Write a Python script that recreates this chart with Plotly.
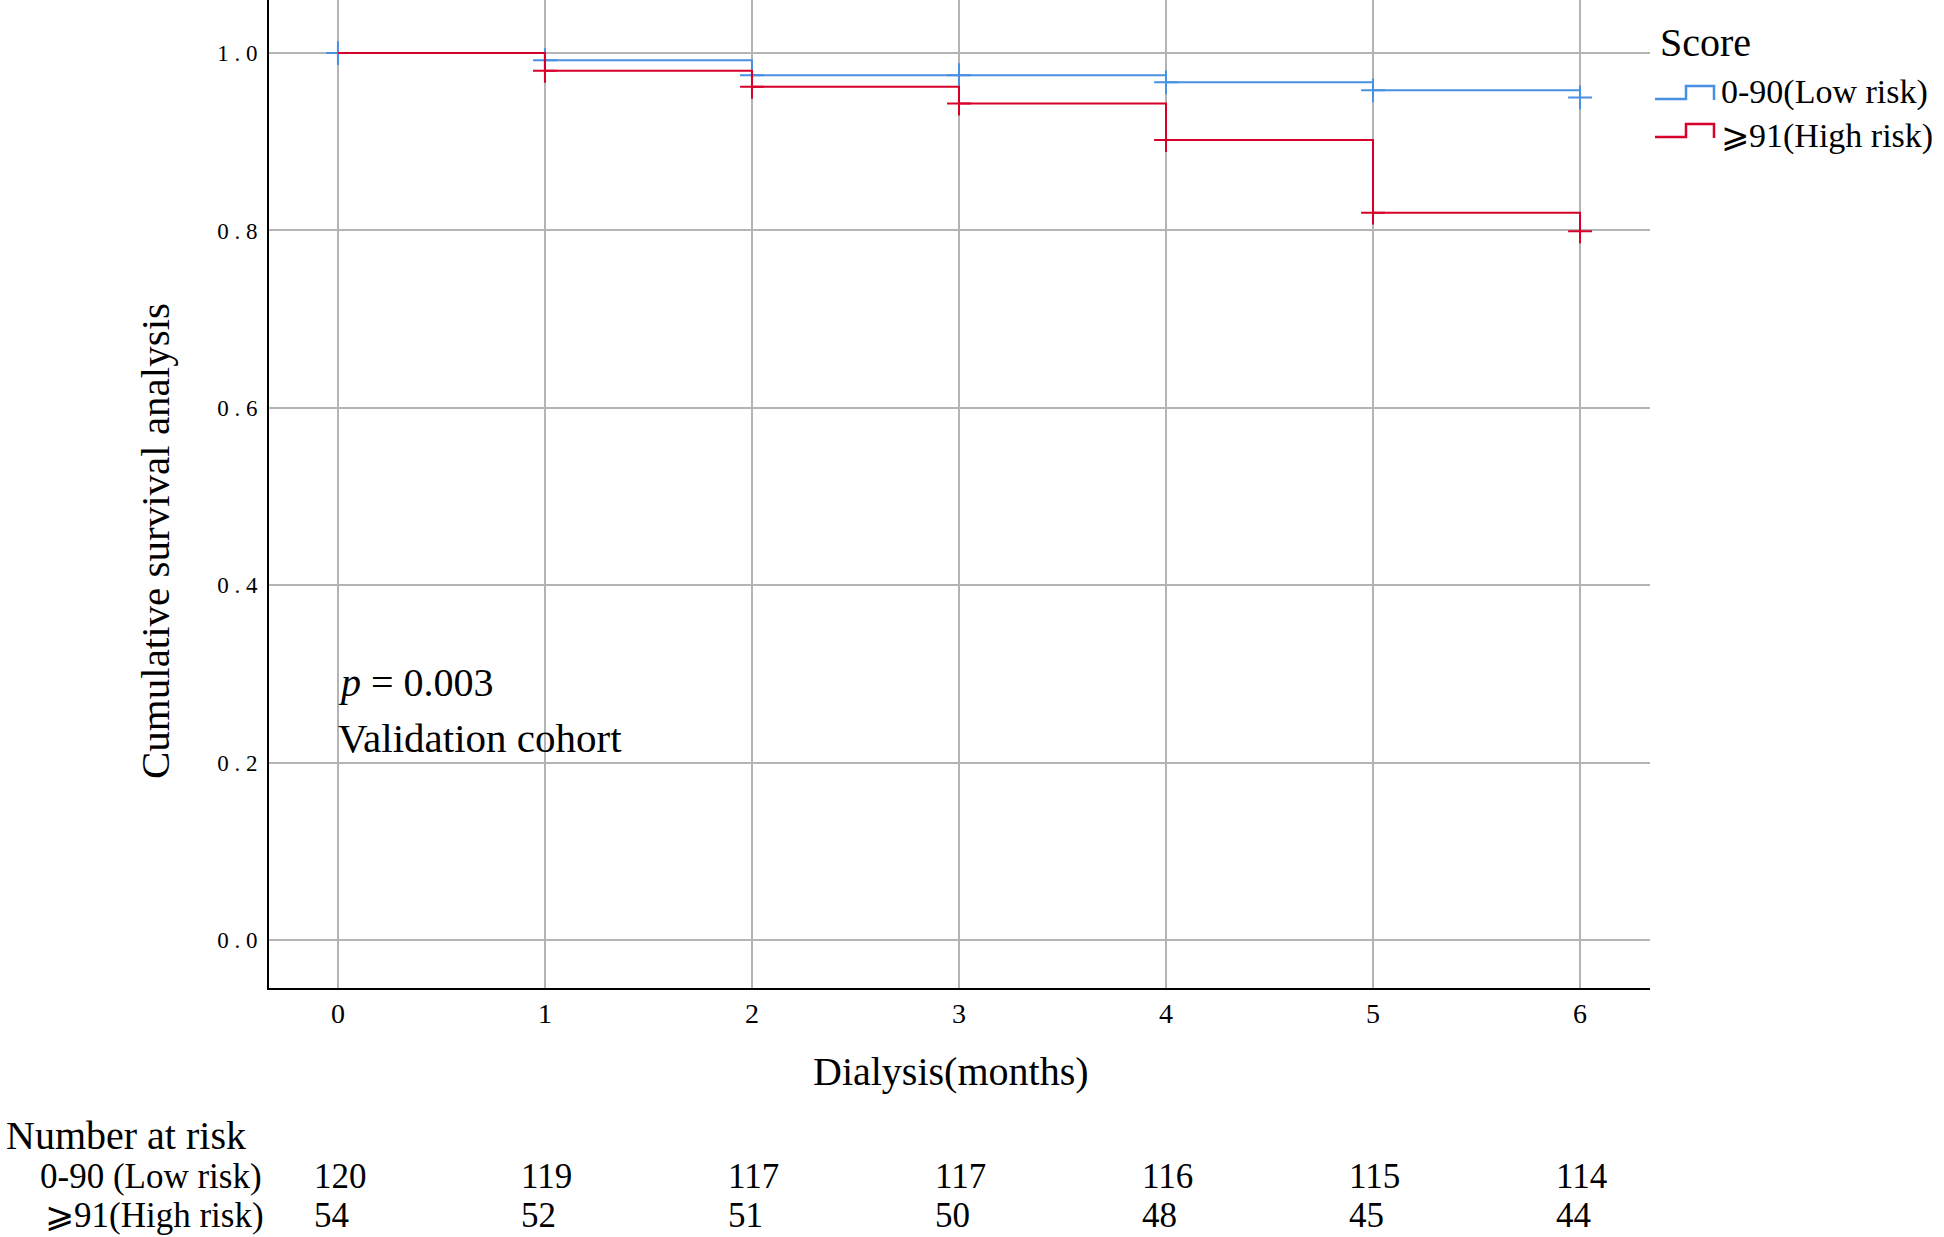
import plotly.graph_objs as go

months = [0, 1, 2, 3, 4, 5, 6]
low_surv = [1.0, 0.992, 0.975, 0.975, 0.967, 0.958, 0.950]
high_surv = [1.0, 0.980, 0.962, 0.943, 0.902, 0.820, 0.799]
low_censor_t = [0, 1, 2, 3, 4, 5, 6]
low_censor_s = [1.0, 0.992, 0.975, 0.975, 0.967, 0.958, 0.950]
high_censor_t = [1, 2, 3, 4, 5, 6]
high_censor_s = [0.980, 0.962, 0.943, 0.902, 0.820, 0.799]
low_at_risk = [120, 119, 117, 117, 116, 115, 114]
high_at_risk = [54, 52, 51, 50, 48, 45, 44]
y_ticks = [0.0, 0.2, 0.4, 0.6, 0.8, 1.0]

BLUE = 'rgb(74, 144, 226)'
RED = 'rgb(214, 0, 42)'
SERIF = 'Liberation Serif'

W, H = 1944, 1237
PL, PR, PB = 269, 1650, 988   # plot area edges in pixels


def px(x):
    return (x - PL) / (PR - PL)


def py(y):
    return (PB - y) / PB


def txt(size):
    return dict(family=SERIF, size=size, color='black')


def note(x, y, text, size, **kw):
    d = dict(x=px(x), y=py(y), xref='paper', yref='paper', xanchor='left', yanchor='middle',
             showarrow=False, text=text, font=txt(size))
    d.update(kw)
    return d


traces = [
    go.Scatter(x=months, y=low_surv, mode='lines', line=dict(color=BLUE, width=2, shape='hv'),
               name='0-90(Low risk)', showlegend=False),
    go.Scatter(x=low_censor_t, y=low_censor_s, mode='markers', showlegend=False,
               marker=dict(symbol='cross-thin', size=17, line=dict(color=BLUE, width=2))),
    go.Scatter(x=months, y=high_surv, mode='lines', line=dict(color=RED, width=2, shape='hv'),
               name='⩾91(High risk)', showlegend=False),
    go.Scatter(x=high_censor_t, y=high_censor_s, mode='markers', showlegend=False,
               marker=dict(symbol='cross-thin', size=17, line=dict(color=RED, width=2))),
]

annotations = [
    dict(x=0, y=0.29, xref='x', yref='y', xanchor='left', yanchor='middle', showarrow=False,
         xshift=-2, text='<i>p</i> = 0.003', font=txt(40)),
    dict(x=0, y=0.228, xref='x', yref='y', xanchor='left', yanchor='middle', showarrow=False,
         xshift=-2, text='Validation cohort', font=txt(41)),
    # axis titles
    note(951, 1071, 'Dialysis(months)', 40, xanchor='center'),
    note(155, 541, 'Cumulative survival analysis', 41, xanchor='center', textangle=-90),
    # legend
    note(1658, 42, 'Score', 40),
    note(1719, 92, '0-90(Low risk)', 34),
    note(1719, 136, '⩾91(High risk)', 34),
    # number at risk table
    note(4, 1135, 'Number at risk', 40),
    note(38, 1176, '0-90 (Low risk)', 35),
    note(43, 1215, '⩾91(High risk)', 35),
]
for t, lo, hi in zip(months, low_at_risk, high_at_risk):
    annotations.append(dict(x=t, y=py(1176), xref='x', yref='paper', xanchor='left', yanchor='middle',
                            showarrow=False, xshift=-26, text=str(lo), font=txt(35)))
    annotations.append(dict(x=t, y=py(1215), xref='x', yref='paper', xanchor='left', yanchor='middle',
                            showarrow=False, xshift=-26, text=str(hi), font=txt(35)))


def step_icon(y_low, y_high, color):
    pts = [(1655, y_low), (1686, y_low), (1686, y_high), (1714, y_high), (1714, y_low + 1)]
    path = 'M ' + ' L '.join(f'{px(a):.5f},{py(b):.5f}' for a, b in pts)
    return dict(type='path', xref='paper', yref='paper', path=path,
                line=dict(color=color, width=2.5))


shapes = [step_icon(99, 86, BLUE), step_icon(137, 124, RED)]

layout = go.Layout(
    width=W,
    height=H,
    paper_bgcolor='white',
    plot_bgcolor='white',
    margin=dict(l=PL, r=W - PR, t=0, b=H - PB),
    xaxis=dict(range=[-0.333, 6.338], tickvals=months, ticktext=[str(m) for m in months],
               showgrid=True, gridcolor='#b4b4b4', gridwidth=2, zeroline=False,
               showline=True, linecolor='black', linewidth=2, ticks='', ticklabelstandoff=-1,
               tickfont=txt(28)),
    yaxis=dict(range=[-0.054, 1.0598], tickvals=y_ticks,
               ticktext=[f"{v:.1f}".replace('.', ' . ') for v in y_ticks],
               showgrid=True, gridcolor='#b4b4b4', gridwidth=2, zeroline=False,
               showline=True, linecolor='black', linewidth=2, ticks='', ticklabelstandoff=5,
               tickfont=txt(23)),
    annotations=annotations,
    shapes=shapes,
    showlegend=False,
)

fig = go.Figure(data=traces, layout=layout)
# the page has an 8px body margin by default; drop it so the figure starts at the corner
fig.write_html("out.html", config={'displayModeBar': False},
               post_script="document.body.style.margin='0';")
